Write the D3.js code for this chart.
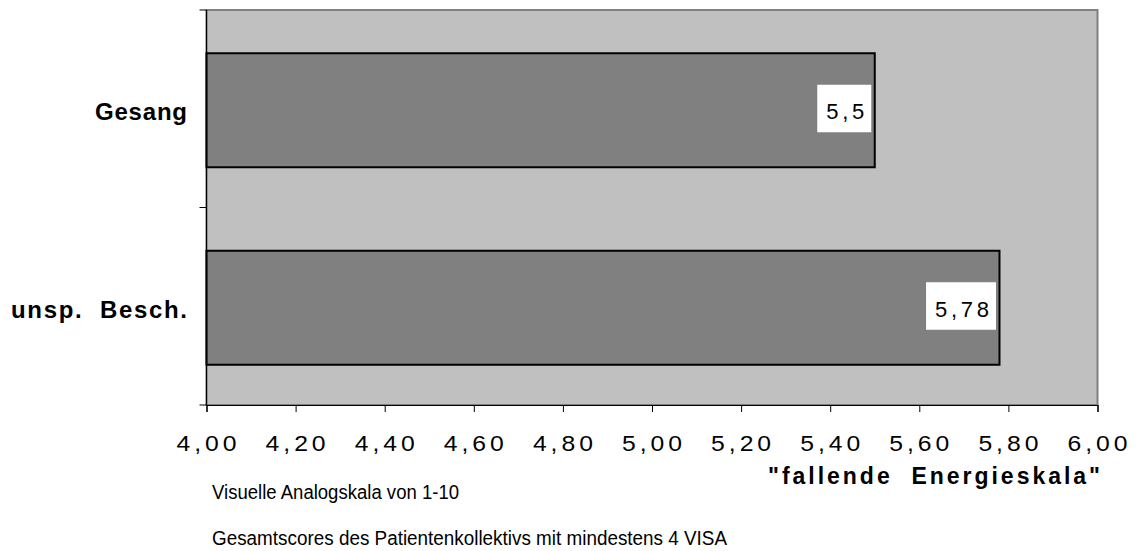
<!DOCTYPE html>
<html>
<head>
<meta charset="utf-8">
<script src="https://cdn.jsdelivr.net/npm/d3@7"></script>
<style>
  html, body { margin: 0; padding: 0; background: #fff; }
  svg { display: block; }
  text { font-family: "Liberation Sans", Arial, sans-serif; }
</style>
</head>
<body>
<svg id="chart" width="1139" height="551"></svg>
<script>
// Scores per activity (visual analogue scale, 1-10)
const categories = ["Gesang", "unsp.  Besch."];
const values = [5.5, 5.78];
const valueLabels = ["5,5", "5,78"];
const tickValues = [4.0, 4.2, 4.4, 4.6, 4.8, 5.0, 5.2, 5.4, 5.6, 5.8, 6.0];
const tickLabels = ["4,00", "4,20", "4,40", "4,60", "4,80", "5,00", "5,20", "5,40", "5,60", "5,80", "6,00"];
const axisTitle = "\"fallende  Energieskala\"";
const notes = ["Visuelle Analogskala von 1-10", "Gesamtscores des Patientenkollektivs mit mindestens 4 VISA"];

const svg = d3.select("#chart");
const plot = { left: 206.5, right: 1097.5, top: 10, bottom: 405 };

const x = d3.scaleLinear().domain([4, 6]).range([plot.left, plot.right]);
const y = d3.scaleBand().domain(categories)
  .range([plot.top, plot.bottom])
  .paddingInner(0.4228).paddingOuter(0.2114);

// plot area
svg.append("rect")
  .attr("x", plot.left).attr("y", plot.top)
  .attr("width", plot.right - plot.left).attr("height", plot.bottom - plot.top)
  .attr("fill", "#c0c0c0")
  .attr("stroke", "#808080").attr("stroke-width", 2);

// bars
const barShift = 1.5;
svg.selectAll("rect.bar").data(categories).enter().append("rect")
  .attr("class", "bar")
  .attr("x", x(4))
  .attr("y", d => y(d) + barShift)
  .attr("width", (d, i) => x(values[i]) - x(4))
  .attr("height", y.bandwidth())
  .attr("fill", "#808080")
  .attr("stroke", "#000").attr("stroke-width", 2);

// x axis
const xAxis = d3.axisBottom(x).tickValues(tickValues).tickSize(7).tickFormat("");
const gx = svg.append("g").attr("transform", `translate(0,${plot.bottom})`).call(xAxis);
gx.select(".domain").attr("stroke", "#000").attr("stroke-width", 1.2);
gx.selectAll(".tick line").attr("stroke", "#000");

// tick labels, slightly widened glyphs
const stretch = 1.15;
svg.append("g").selectAll("text").data(tickValues).enter().append("text")
  .attr("transform", d => `translate(${x(d)},451) scale(${stretch},1)`)
  .attr("text-anchor", "middle")
  .attr("font-size", 21.5)
  .attr("textLength", 60 / stretch)
  .attr("lengthAdjust", "spacing")
  .attr("fill", "#000")
  .text((d, i) => tickLabels[i]);

// y axis: ticks on the category boundaries
const boundaries = [plot.top, (y(categories[0]) + y.bandwidth() + y(categories[1])) / 2, plot.bottom];
svg.append("line")
  .attr("x1", plot.left).attr("x2", plot.left)
  .attr("y1", plot.top).attr("y2", plot.bottom)
  .attr("stroke", "#000").attr("stroke-width", 1.2);
svg.append("g").selectAll("line").data(boundaries).enter().append("line")
  .attr("x1", plot.left - 7).attr("x2", plot.left)
  .attr("y1", d => d).attr("y2", d => d)
  .attr("stroke", "#000");

// category labels
const catLengths = [92, 176];
svg.append("g").selectAll("text").data(categories).enter().append("text")
  .attr("x", 187)
  .attr("y", d => y(d) + y.bandwidth() / 2 + barShift + 10)
  .attr("text-anchor", "end")
  .attr("font-size", 24)
  .attr("font-weight", "bold")
  .attr("textLength", (d, i) => catLengths[i])
  .attr("lengthAdjust", "spacing")
  .style("white-space", "pre")
  .text(d => d);

// value labels in white boxes at the bar ends
const lbl = svg.append("g");
categories.forEach((c, i) => {
  const cy = y(c) + y.bandwidth() / 2 + barShift;
  const right = x(values[i]) - 3.5;
  const g = lbl.append("g");
  const box = g.append("rect").attr("fill", "#fff");
  const t = g.append("text")
    .attr("x", right - 7)
    .attr("y", cy + 9)
    .attr("text-anchor", "end")
    .attr("font-size", 22)
    .attr("fill", "#000")
    .text(valueLabels[i]);
  const n = valueLabels[i].length;
  const w = t.node().getComputedTextLength();
  const target = w + (n - 1) * 3.7;
  t.attr("textLength", target).attr("lengthAdjust", "spacing");
  box.attr("x", right - 7 - target - 9)
    .attr("y", cy - 1.75 - 23.75)
    .attr("width", target + 16)
    .attr("height", 47.5);
});

// axis title
svg.append("text")
  .attr("x", 768).attr("y", 483.5)
  .attr("font-size", 23)
  .attr("font-weight", "bold")
  .attr("textLength", 332)
  .attr("lengthAdjust", "spacing")
  .style("white-space", "pre")
  .text(axisTitle);

// notes below the chart
const noteY = [498.5, 545];
const noteLen = [247, 515];
svg.append("g").selectAll("text").data(notes).enter().append("text")
  .attr("x", 212)
  .attr("y", (d, i) => noteY[i])
  .attr("font-size", 20)
  .attr("textLength", (d, i) => noteLen[i])
  .attr("lengthAdjust", "spacingAndGlyphs")
  .text(d => d);
</script>
</body>
</html>
